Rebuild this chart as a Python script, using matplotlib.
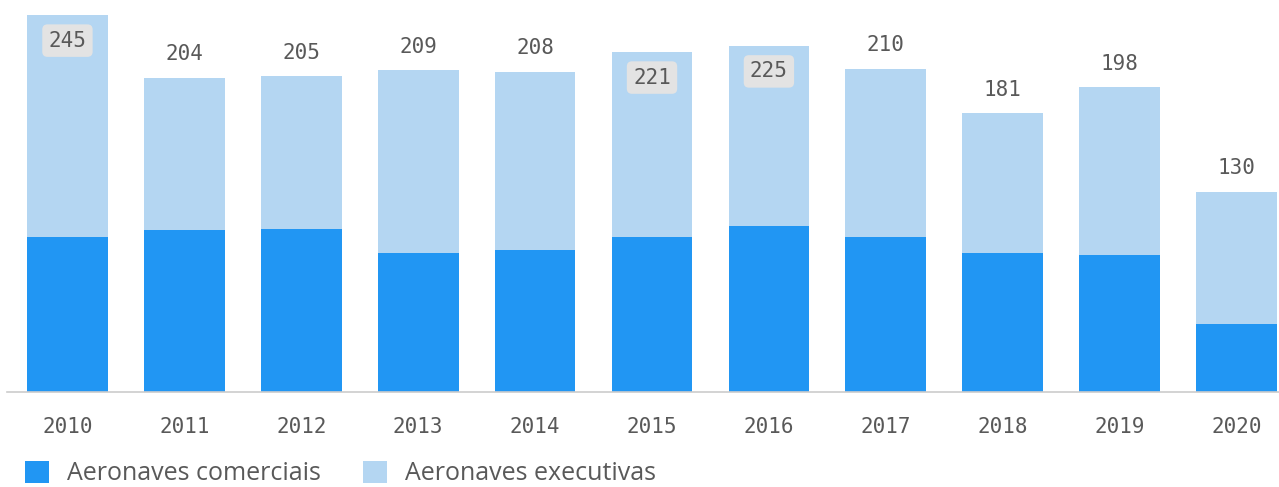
import matplotlib.pyplot as plt
import numpy as np

# dados
years = ['2010', '2011', '2012', '2013', '2014', '2015', '2016', '2017', '2018', '2019', '2020']
comerciais = [101, 105, 106, 90, 92, 101, 108, 101, 90, 89, 44]
totais = [245, 204, 205, 209, 208, 221, 225, 210, 181, 198, 130]
executivas = [t - c for t, c in zip(totais, comerciais)]

cor_com = '#2196f3'
cor_exe = '#b4d6f2'
cor_txt = '#595959'

W, H = 1279, 487
fig = plt.figure(figsize=(W / 100, H / 100), dpi=100)
ax = fig.add_axes([7 / W, 95 / H, 1272 / W, 392 / H])

x = np.arange(len(years))
b1 = ax.bar(x, comerciais, width=0.69, color=cor_com, label='Aeronaves comerciais')
b2 = ax.bar(x, executivas, width=0.69, bottom=comerciais, color=cor_exe, label='Aeronaves executivas')

ax.set_xlim(-0.517, 10.363)
ax.set_ylim(0, 254.7)

# rótulos de total
for xi, t in zip(x, totais):
    if t > 220:
        ax.annotate(str(t), (xi, t), xytext=(0, -18.5), textcoords='offset points',
                    ha='center', va='center', fontsize=15, family='DejaVu Sans Mono',
                    color=cor_txt,
                    bbox=dict(boxstyle='round,pad=0.3,rounding_size=0.25', fc='#e3e3e3', ec='none'))
    else:
        ax.annotate(str(t), (xi, t), xytext=(0, 17), textcoords='offset points',
                    ha='center', va='center', fontsize=15, family='DejaVu Sans Mono',
                    color=cor_txt)

ax.set_xticks(x)
ax.set_xticklabels(years, family='DejaVu Sans Mono', fontsize=15, color=cor_txt)
ax.tick_params(axis='x', length=0, pad=18)
ax.set_yticks([])
for s in ['top', 'right', 'left']:
    ax.spines[s].set_visible(False)
ax.spines['bottom'].set_color('#cccccc')
ax.spines['bottom'].set_linewidth(1.2)

# legenda (no original fica quase cortada na borda inferior)
fig.legend(handles=[b1, b2], loc='upper left', bbox_to_anchor=(25 / W, 1 - 461 / H),
           ncol=2, frameon=False, handlelength=0.96, handleheight=0.96,
           handletextpad=0.72, columnspacing=1.68, borderpad=0, borderaxespad=0,
           prop={'family': 'Open Sans', 'size': 18}, labelcolor=cor_txt)

fig.savefig('out.png', dpi=100)
